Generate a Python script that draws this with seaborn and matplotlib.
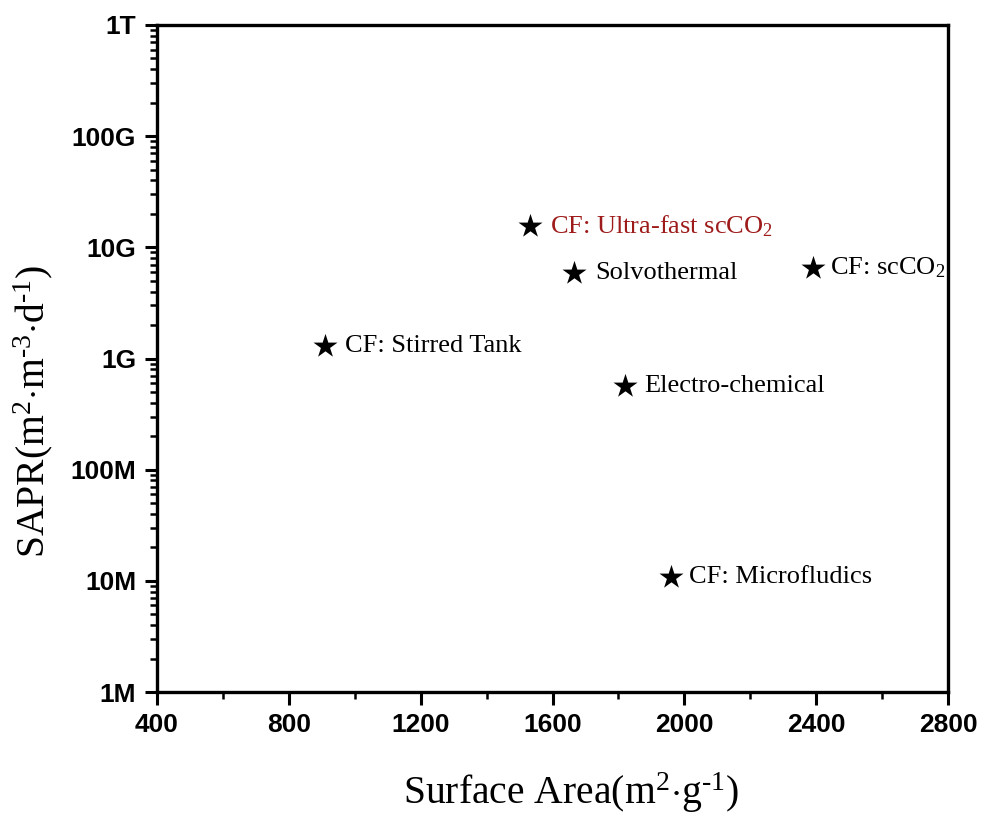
import matplotlib
matplotlib.use('Agg')
import matplotlib.pyplot as plt
import matplotlib.ticker as mticker
import pandas as pd
import seaborn as sns

# data
methods = ['CF: Ultra-fast scCO$_2$', 'Solvothermal', 'CF: scCO$_2$', 'CF: Stirred Tank',
           'Electro-chemical', 'CF: Microfludics']
surface_area = [1532, 1665, 2390, 910, 1820, 1960]
sapr = [1.56e10, 5.9e9, 6.5e9, 1.3e9, 5.6e8, 1.09e7]
label_colors = ['#9E1B1B', 'black', 'black', 'black', 'black', 'black']
label_offsets = [14, 15, 12, 14, 14, 13]

ytick_vals = [1e6, 1e7, 1e8, 1e9, 1e10, 1e11, 1e12]
ytick_labels = ['1M', '10M', '100M', '1G', '10G', '100G', '1T']
xtick_vals = [400, 800, 1200, 1600, 2000, 2400, 2800]

df = pd.DataFrame({'method': methods, 'area': surface_area, 'sapr': sapr})

sns.set_theme(style='ticks')
plt.rcParams['font.family'] = ['Liberation Serif', 'DejaVu Serif']
plt.rcParams['mathtext.fontset'] = 'custom'
plt.rcParams['mathtext.rm'] = 'Liberation Serif'
plt.rcParams['mathtext.it'] = 'Liberation Serif:italic'
plt.rcParams['text.color'] = 'black'

fig = plt.figure(figsize=(9.81, 8.17), dpi=100)
ax = fig.add_axes([157 / 981, 1 - 692 / 817, 791 / 981, 667 / 817])

sns.scatterplot(data=df, x='area', y='sapr', marker='*', s=330, color='black',
                edgecolor='black', linewidth=0, ax=ax, zorder=3)

for name, xv, yv, c, off in zip(methods, surface_area, sapr, label_colors, label_offsets):
    ax.annotate(name, (xv, yv), xytext=(off, 0), textcoords='offset points',
                va='center', ha='left', fontsize=19, color=c)

ax.set_yscale('log')
ax.set_xlim(400, 2800)
ax.set_ylim(1e6, 1e12)
ax.set_xticks(xtick_vals)
ax.xaxis.set_minor_locator(mticker.MultipleLocator(200))
ax.set_yticks(ytick_vals)
ax.set_yticklabels(ytick_labels)
ax.yaxis.set_minor_locator(mticker.LogLocator(base=10, subs=range(2, 10), numticks=20))
ax.yaxis.set_minor_formatter(mticker.NullFormatter())

for lab in ax.get_xticklabels() + ax.get_yticklabels():
    lab.set_fontfamily('Liberation Sans')
    lab.set_fontweight('bold')
    lab.set_fontsize(19)
    lab.set_color('black')

ax.tick_params(which='major', direction='out', length=9, width=2.2, pad=6, color='black')
ax.tick_params(which='minor', direction='out', length=5, width=1.8, color='black')
ax.tick_params(top=False, right=False, which='both')

for sp in ax.spines.values():
    sp.set_visible(True)
    sp.set_linewidth(2.4)
    sp.set_color('black')

ax.set_xlabel(r'Surface Area(m$^{2}$$\cdot$g$^{\text{-}1}$)', fontsize=28.5, color='black')
ax.set_ylabel(r'SAPR(m$^{2}$$\cdot$m$^{\text{-}3}$$\cdot$d$^{\text{-}1}$)', fontsize=28.5,
              color='black')
ax.xaxis.set_label_coords(0.523, -0.117)
ax.yaxis.set_label_coords(-0.129, 0.42)

fig.savefig('out.png', dpi=100)
